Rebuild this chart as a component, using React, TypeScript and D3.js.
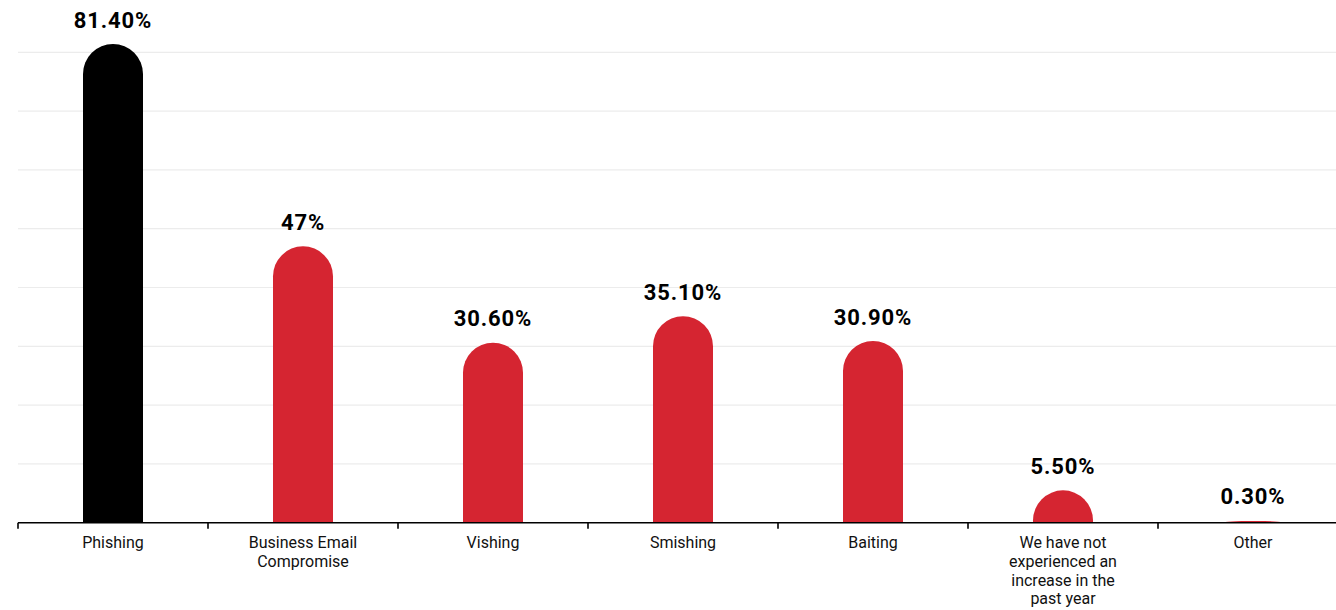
import React from "react";
import * as d3 from "d3";

const categories = [
  "Phishing",
  "Business Email Compromise",
  "Vishing",
  "Smishing",
  "Baiting",
  "We have not experienced an increase in the past year",
  "Other",
];
const values = [81.4, 47, 30.6, 35.1, 30.9, 5.5, 0.3];
const valueLabels = ["81.40%", "47%", "30.60%", "35.10%", "30.90%", "5.50%", "0.30%"];
const barColors = ["#000000", "#d52531", "#d52531", "#d52531", "#d52531", "#d52531", "#d52531"];
const gridValues = [10, 20, 30, 40, 50, 60, 70, 80];

const W = 1336;
const H = 610;
const baseY = 522.7;
const left = 18;

function wrap(text: string, maxW: number, font: string): string[] {
  const c = document.createElement("canvas").getContext("2d")!;
  c.font = font;
  const words = text.split(" ");
  const lines: string[] = [];
  let cur = "";
  for (const w of words) {
    const t = cur ? cur + " " + w : w;
    if (cur && c.measureText(t).width > maxW) {
      lines.push(cur);
      cur = w;
    } else cur = t;
  }
  if (cur) lines.push(cur);
  return lines;
}

export default function App() {
  const x = d3.scaleBand<string>().domain(categories).range([left, left + 190 * 7]).paddingInner(0).paddingOuter(0);
  const y = d3.scaleLinear().domain([0, 80]).range([baseY, 52.3]);
  const barW = 60;
  const catFont = "16px Roboto";

  const barPath = (cx: number, v: number) => {
    const top = y(v);
    const h = baseY - top;
    const r = Math.min(barW / 2, h);
    const x0 = cx - barW / 2;
    const x1 = cx + barW / 2;
    if (h <= barW / 2) {
      return `M${x0},${baseY} A${barW / 2},${h} 0 0 1 ${x1},${baseY} Z`;
    }
    return `M${x0},${baseY} L${x0},${top + r} A${r},${r} 0 0 1 ${x1},${top + r} L${x1},${baseY} Z`;
  };

  const ticks = categories.map((c) => x(c)!).concat([left + 190 * 7]);

  return (
    <svg width={W} height={H} style={{ position: "absolute", left: 0, top: 0, background: "#fff" }}>
      {gridValues.map((g) => (
        <line key={g} x1={left} x2={W} y1={y(g)} y2={y(g)} stroke="#ececec" strokeWidth={1.2} />
      ))}
      {categories.map((c, i) => {
        const cx = x(c)! + x.bandwidth() / 2;
        return (
          <g key={c}>
            <path d={barPath(cx, values[i])} fill={barColors[i]} />
            <text
              x={cx}
              y={y(values[i]) - 16.5}
              textAnchor="middle"
              fontFamily="Roboto"
              fontWeight={700}
              fontSize={22}
              letterSpacing={0.9}
              fill="#000"
            >
              {valueLabels[i]}
            </text>
            {wrap(c, 122, catFont).map((ln, j) => (
              <text
                key={j}
                x={cx}
                y={548.3 + j * 18.7}
                textAnchor="middle"
                fontFamily="Roboto"
                fontSize={16}
                fill="#111"
              >
                {ln}
              </text>
            ))}
          </g>
        );
      })}
      <line x1={left} x2={W} y1={baseY} y2={baseY} stroke="#000" strokeWidth={1.6} />
      {ticks.map((t, i) => (
        <line key={i} x1={t} x2={t} y1={baseY} y2={baseY + 6} stroke="#000" strokeWidth={1.6} />
      ))}
    </svg>
  );
}
